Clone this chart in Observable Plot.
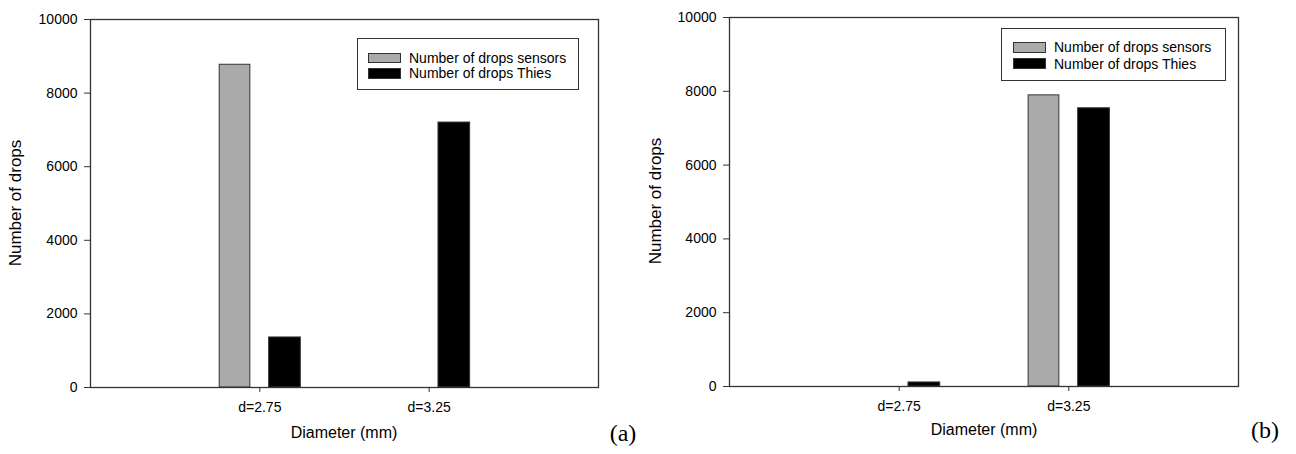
<!DOCTYPE html>
<html>
<head>
<meta charset="utf-8">
<script src="https://cdn.jsdelivr.net/npm/d3@7"></script>
<script src="https://cdn.jsdelivr.net/npm/@observablehq/plot@0.6"></script>
<style>
  html, body { margin: 0; padding: 0; background: #fff; }
  #root { position: relative; width: 1296px; height: 454px; overflow: hidden; font-family: "Liberation Sans", Arial, sans-serif; color: #000; }
  .panel { position: absolute; top: 0; width: 648px; height: 454px; }
  .ttl { position: absolute; white-space: nowrap; font-size: 16px; line-height: 1; }
  .ytitle { transform: translate(-50%, -50%) rotate(-90deg); font-size: 17px; }
  .xtitle { transform: translate(-50%, -50%); }
  .tag { position: absolute; white-space: nowrap; font-family: "Liberation Serif", "Times New Roman", serif; font-size: 24px; transform: translate(-50%, -50%); line-height: 1; }
  .legend { position: absolute; border: 1px solid #333; background: #fff; box-sizing: border-box; }
  .sw { position: absolute; box-sizing: border-box; border: 1px solid #333; }
  .lt { position: absolute; font-size: 14px; line-height: 1; white-space: nowrap; transform: translateY(-50%); }
</style>
</head>
<body>
<div id="root"></div>
<script>
// ---- data ----
const diameters = ["d=2.75", "d=3.25"];
const seriesNames = ["Number of drops sensors", "Number of drops Thies"];
const seriesColors = ["#aaaaaa", "#000000"];
const yTicks = [0, 2000, 4000, 6000, 8000, 10000];
const panelA_sensors = [8770, 0];
const panelA_thies = [1360, 7200];
const panelB_sensors = [0, 7890];
const panelB_thies = [110, 7540];
const xLabel = "Diameter (mm)";
const yLabel = "Number of drops";

// bar placement within each category slot (in x units, slot = 1)
const barOffsets = [[-0.237, -0.056], [0.055, 0.242]];

function rows(sensors, thies) {
  const out = [];
  [sensors, thies].forEach((vals, s) => {
    vals.forEach((v, i) => {
      if (v > 0) out.push({pos: i + 1, series: seriesNames[s], s, value: v});
    });
  });
  return out;
}

function makePanel(cfg) {
  const data = rows(cfg.sensors, cfg.thies);
  return Plot.plot({
    width: 648,
    height: 454,
    marginLeft: cfg.ml, marginRight: cfg.mr, marginTop: cfg.mt, marginBottom: cfg.mb,
    style: {fontFamily: "'Liberation Sans', Arial, sans-serif", fontSize: "14px", color: "#000", background: "transparent", overflow: "visible"},
    x: {domain: [0, 3]},
    y: {domain: [0, 10000]},
    marks: [
      Plot.rect(data, {
        x1: d => d.pos + barOffsets[d.s][0],
        x2: d => d.pos + barOffsets[d.s][1],
        y1: 0,
        y2: "value",
        fill: d => seriesColors[d.s],
        stroke: "#333",
        strokeWidth: 1
      }),
      Plot.frame({stroke: "#333", strokeWidth: 1.3}),
      Plot.axisY({ticks: yTicks, tickSize: 6, tickPadding: 7, tickFormat: d => String(d), label: null, stroke: "#333", fontSize: 14}),
      Plot.axisX({ticks: [1, 2], tickSize: 5, tickPadding: 10, tickFormat: i => diameters[i - 1], label: null, stroke: "#333", fontSize: 14})
    ]
  });
}

const root = document.getElementById("root");

const panels = [
  {left: 0, sensors: panelA_sensors, thies: panelA_thies, ml: 90, mr: 50, mt: 19, mb: 67,
   yt: [15, 203], xt: [344, 433], tag: ["(a)", 623, 433],
   legend: {x: 357, y: 38, w: 222, h: 52, swx: 10, sww: 33, sw: [[14, 10], [29, 11]], tx: 51, ty: [19, 34]}},
  {left: 648, sensors: panelB_sensors, thies: panelB_thies, ml: 81, mr: 58, mt: 17, mb: 68,
   yt: [655 - 648, 201], xt: [984 - 648, 430], tag: ["(b)", 1265 - 648, 430],
   legend: {x: 1001 - 648, y: 28, w: 225, h: 53, swx: 11, sww: 33, sw: [[13, 11], [29, 11]], tx: 52, ty: [18, 35]}}
];

panels.forEach(p => {
  const div = document.createElement("div");
  div.className = "panel";
  div.style.left = p.left + "px";
  div.appendChild(makePanel(p));

  const yt = document.createElement("div");
  yt.className = "ttl ytitle";
  yt.style.left = p.yt[0] + "px"; yt.style.top = p.yt[1] + "px";
  yt.textContent = yLabel;
  div.appendChild(yt);

  const xt = document.createElement("div");
  xt.className = "ttl xtitle";
  xt.style.left = p.xt[0] + "px"; xt.style.top = p.xt[1] + "px";
  xt.textContent = xLabel;
  div.appendChild(xt);

  const tag = document.createElement("div");
  tag.className = "tag";
  tag.style.left = p.tag[1] + "px"; tag.style.top = p.tag[2] + "px";
  tag.textContent = p.tag[0];
  div.appendChild(tag);

  const L = p.legend;
  const lg = document.createElement("div");
  lg.className = "legend";
  Object.assign(lg.style, {left: L.x + "px", top: L.y + "px", width: L.w + "px", height: L.h + "px"});
  seriesNames.forEach((name, i) => {
    const sw = document.createElement("div");
    sw.className = "sw";
    Object.assign(sw.style, {left: L.swx + "px", top: L.sw[i][0] + "px", width: L.sww + "px", height: L.sw[i][1] + "px", background: seriesColors[i]});
    lg.appendChild(sw);
    const t = document.createElement("div");
    t.className = "lt";
    Object.assign(t.style, {left: L.tx + "px", top: L.ty[i] + "px"});
    t.textContent = name;
    lg.appendChild(t);
  });
  div.appendChild(lg);

  root.appendChild(div);
});
</script>
</body>
</html>
